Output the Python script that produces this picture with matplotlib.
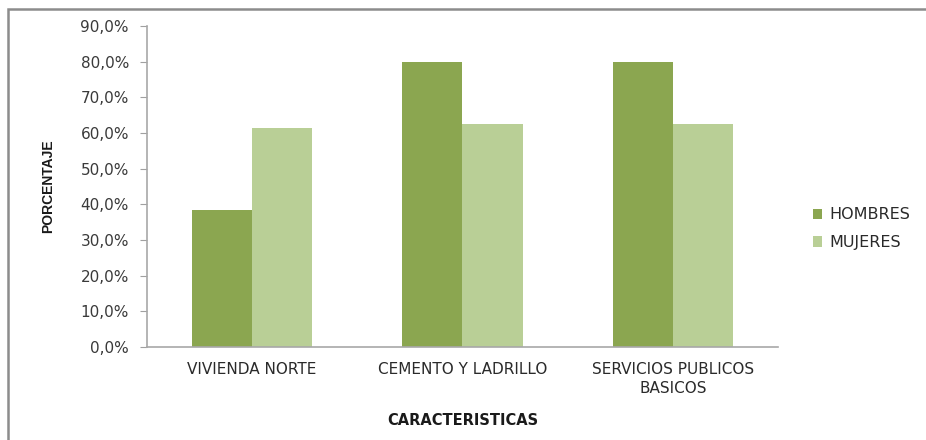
import numpy as np
import matplotlib.pyplot as plt
from matplotlib.patches import Rectangle
from matplotlib.ticker import FuncFormatter

categories = ["VIVIENDA NORTE", "CEMENTO Y LADRILLO", "SERVICIOS PUBLICOS\nBASICOS"]
hombres = [38.5, 80.0, 80.0]
mujeres = [61.5, 62.5, 62.5]
series_labels = ["HOMBRES", "MUJERES"]

plt.rcParams.update({
    'font.family': ['DejaVu Sans'],
    'font.size': 11,
})

fig = plt.figure(figsize=(9.26, 4.40), dpi=100)
ax = fig.add_axes([0.1587, 0.2114, 0.6815, 0.7295])

# frame around the whole chart
fig.patches.append(Rectangle((8 / 926, -1.0), 2.0, 2 - 9 / 440, transform=fig.transFigure,
                             fill=False, edgecolor='#8c8c8c', linewidth=1.8))

x = np.arange(len(categories))
w = 0.286
ax.bar(x - w / 2, hombres, width=w, color='#8ba650', label=series_labels[0])
ax.bar(x + w / 2, mujeres, width=w, color='#b9cf96', label=series_labels[1])

ax.set_xlim(-0.5, len(categories) - 0.5)
ax.set_ylim(0, 90)
ax.set_yticks(np.arange(0, 91, 10))
ax.yaxis.set_major_formatter(FuncFormatter(lambda v, p: f"{v:.1f}%".replace('.', ',')))
ax.set_xticks(x)
ax.set_xticklabels(categories, fontsize=11, color='#2a2a2a', linespacing=1.3)
ax.tick_params(axis='x', length=0, pad=11)
ax.tick_params(axis='y', length=5, color='#a0a0a0', labelsize=11, labelcolor='#3a3a3a', pad=8)

for s in ['top', 'right']:
    ax.spines[s].set_visible(False)
for s in ['left', 'bottom']:
    ax.spines[s].set_color('#a8a8a8')
    ax.spines[s].set_linewidth(1.2)

ax.set_xlabel("CARACTERISTICAS", fontsize=10.5, fontweight='bold', labelpad=12, color='#1a1a1a')
ax.set_ylabel("PORCENTAJE", fontsize=10, fontweight='bold', labelpad=18,
              family=['Liberation Sans', 'DejaVu Sans'], color='#1a1a1a')

ax.legend(loc='center left', bbox_to_anchor=(1.032, 0.368), frameon=False, fontsize=11.5,
          handlelength=0.62, handleheight=0.62, labelspacing=0.8, handletextpad=0.45,
          labelcolor='#2a2a2a')

plt.savefig("out.png", dpi=100, facecolor='white')
